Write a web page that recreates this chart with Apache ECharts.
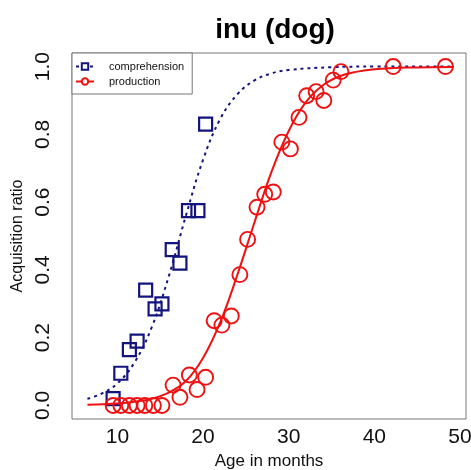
<!DOCTYPE html>
<html>
<head>
<meta charset="utf-8">
<script src="https://cdn.jsdelivr.net/npm/echarts@6/dist/echarts.min.js"></script>
<style>
html,body{margin:0;padding:0;background:#fff;}
#chart{width:471px;height:470px;}
</style>
</head>
<body>
<div id="chart"></div>
<script>
// Observed data: comprehension (blue squares)
const compAge   = [9.5, 10.4, 11.4, 12.3, 13.3, 14.4, 15.2, 16.4, 17.3, 18.3, 19.4, 20.3];
const compRatio = [0.02, 0.095, 0.165, 0.19, 0.34, 0.285, 0.30, 0.46, 0.42, 0.575, 0.575, 0.83];

// Observed data: production (red circles)
const prodAge   = [9.5, 10.4, 11.4, 12.3, 13.2, 14.2, 15.2, 16.5, 17.3, 18.4, 19.3, 20.3, 21.3, 22.2, 23.3, 24.3, 25.2, 26.3, 27.2, 28.2, 29.2, 30.2, 31.2, 32.1, 33.2, 34.1, 35.2, 36.1, 42.2, 48.3];
const prodRatio = [0, 0, 0, 0, 0, 0, 0, 0.06, 0.024, 0.09, 0.047, 0.083, 0.25, 0.237, 0.264, 0.386, 0.49, 0.585, 0.623, 0.63, 0.777, 0.757, 0.85, 0.914, 0.926, 0.90, 0.96, 0.985, 1.0, 1.0];

// Fitted curves
const compCurveAge   = [6.5, 8, 10, 12, 14, 16, 18, 20, 22, 24, 26, 28, 30, 35, 40, 45, 49.3];
const compCurveRatio = [0.02, 0.033, 0.065, 0.127, 0.23, 0.381, 0.56, 0.725, 0.845, 0.918, 0.959, 0.98, 0.99, 0.998, 1.0, 1.0, 1.0];
const prodCurveAge   = [6.5, 10, 12, 14, 16, 18, 20, 22, 24, 26, 28, 30, 32, 34, 36, 38, 40, 44, 49.3];
const prodCurveRatio = [0.002, 0.006, 0.011, 0.02, 0.038, 0.072, 0.14, 0.245, 0.385, 0.54, 0.69, 0.81, 0.895, 0.945, 0.972, 0.985, 0.992, 0.997, 0.999];

// Axis ticks
const xTicks = [10, 20, 30, 40, 50];
const yTicks = [0, 0.2, 0.4, 0.6, 0.8, 1.0];

const zip = (a, b) => a.map((v, i) => [v, b[i]]);
const BLUE = '#14147f';
const RED = '#ee1111';
const FONT = '"Liberation Sans", Arial, sans-serif';

const chart = echarts.init(document.getElementById('chart'), null, {renderer: 'canvas'});
chart.setOption({
  animation: false,
  backgroundColor: '#fff',
  title: {
    text: 'inu (dog)',
    left: 270, top: 11, textAlign: 'center',
    textStyle: {fontFamily: FONT, fontWeight: 'bold', fontSize: 28, color: '#000'}
  },
  grid: {left: 72, top: 53, width: 394, height: 366, show: true, borderColor: '#777', borderWidth: 1,
    containLabel: false, outerBoundsMode: 'none'},
  legend: {
    left: 72, top: 53, orient: 'vertical',
    data: ['comprehension', 'production'],
    borderColor: '#777', borderWidth: 1, borderRadius: 0,
    padding: [8, 8, 7, 3],
    itemWidth: 18, itemHeight: 8, itemGap: 4,
    textStyle: {fontFamily: FONT, fontSize: 11, color: '#111', padding: [0, 0, 0, 10]},
    backgroundColor: '#fff'
  },
  xAxis: {
    type: 'value', min: 4.7, max: 50.7,
    name: 'Age in months', nameLocation: 'middle', nameGap: 34,
    nameTextStyle: {fontFamily: FONT, fontSize: 17, color: '#111'},
    axisLine: {show: false}, axisTick: {show: false}, splitLine: {show: false},
    axisLabel: {customValues: xTicks, fontFamily: FONT, fontSize: 21, color: '#111', margin: 8,
      showMinLabel: true, showMaxLabel: true}
  },
  yAxis: {
    type: 'value', min: -0.04, max: 1.04,
    name: 'Acquisition ratio', nameLocation: 'middle', nameGap: 40, nameRotate: 90,
    nameTextStyle: {fontFamily: FONT, fontSize: 16, color: '#111'},
    axisLine: {show: false}, axisTick: {show: false}, splitLine: {show: false},
    axisLabel: {customValues: yTicks, rotate: 90, fontFamily: FONT, fontSize: 21, color: '#111', margin: 18,
      formatter: v => v.toFixed(1)}
  },
  series: [
    {
      name: 'comprehension', type: 'line', data: zip(compCurveAge, compCurveRatio),
      smooth: 0.4, showSymbol: false, symbol: 'emptyRect', symbolSize: 7,
      lineStyle: {color: BLUE, width: 2, type: [3, 4]},
      itemStyle: {color: BLUE}, z: 2
    },
    {
      name: 'compPoints', type: 'scatter', data: zip(compAge, compRatio),
      symbol: 'rect', symbolSize: 13,
      itemStyle: {color: 'rgba(0,0,0,0)', borderColor: BLUE, borderWidth: 2.2, opacity: 1}, z: 3
    },
    {
      name: 'production', type: 'line', data: zip(prodCurveAge, prodCurveRatio),
      smooth: 0.4, showSymbol: false, symbol: 'emptyCircle', symbolSize: 7,
      lineStyle: {color: RED, width: 2, type: 'solid'},
      itemStyle: {color: RED}, z: 4
    },
    {
      name: 'prodPoints', type: 'scatter', data: zip(prodAge, prodRatio),
      symbol: 'circle', symbolSize: 15,
      itemStyle: {color: 'rgba(0,0,0,0)', borderColor: RED, borderWidth: 1.9, opacity: 1}, z: 5
    }
  ]
});
</script>
</body>
</html>
